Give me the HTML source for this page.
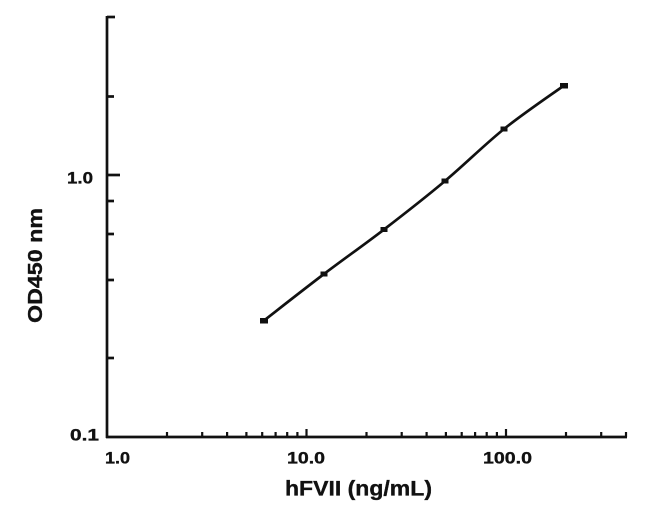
<!DOCTYPE html>
<html>
<head>
<meta charset="utf-8">
<style>
  html, body { margin:0; padding:0; background:#fff; }
  svg { display:block; }
  text { font-family: "Liberation Sans", Arial, sans-serif; font-weight: bold; fill:#111; stroke:#111; stroke-width:0.35; }
</style>
</head>
<body>
<svg width="650" height="513" viewBox="0 0 650 513" xmlns="http://www.w3.org/2000/svg">
  <rect width="650" height="513" fill="#fff"/>
  <g stroke="#111" stroke-width="2.7" fill="none" stroke-linecap="butt">
    <line x1="107" y1="16" x2="107" y2="438"/>
    <line x1="106" y1="437" x2="627" y2="437"/>
    <line x1="107" y1="17" x2="115" y2="17"/>
    <line x1="107" y1="96.5" x2="114" y2="96.5"/>
    <line x1="107" y1="175" x2="120" y2="175"/>
    <line x1="107" y1="201" x2="114" y2="201"/>
    <line x1="107" y1="234" x2="114" y2="234"/>
    <line x1="107" y1="280" x2="114" y2="280"/>
    <line x1="107" y1="358" x2="114" y2="358"/>
  </g>
  <g stroke="#111" stroke-width="2.2" fill="none">
    <line x1="167" y1="437" x2="167" y2="432"/>
    <line x1="202.2" y1="437" x2="202.2" y2="432"/>
    <line x1="227.1" y1="437" x2="227.1" y2="432"/>
    <line x1="246.4" y1="437" x2="246.4" y2="432"/>
    <line x1="262.2" y1="437" x2="262.2" y2="432"/>
    <line x1="275.6" y1="437" x2="275.6" y2="432"/>
    <line x1="287.2" y1="437" x2="287.2" y2="432"/>
    <line x1="297.4" y1="437" x2="297.4" y2="432"/>
    <line x1="306.5" y1="437" x2="306.5" y2="429"/>
    <line x1="366.5" y1="437" x2="366.5" y2="432"/>
    <line x1="401.7" y1="437" x2="401.7" y2="432"/>
    <line x1="426.6" y1="437" x2="426.6" y2="432"/>
    <line x1="445.9" y1="437" x2="445.9" y2="432"/>
    <line x1="461.7" y1="437" x2="461.7" y2="432"/>
    <line x1="475.1" y1="437" x2="475.1" y2="432"/>
    <line x1="486.7" y1="437" x2="486.7" y2="432"/>
    <line x1="496.9" y1="437" x2="496.9" y2="432"/>
    <line x1="506" y1="437" x2="506" y2="429"/>
    <line x1="566" y1="437" x2="566" y2="432"/>
    <line x1="601.2" y1="437" x2="601.2" y2="432"/>
    <line x1="626" y1="437" x2="626" y2="432"/>
  </g>
  <path d="M264,320.5 C274,312.75 304,289.17 324,274 C344,258.83 363.83,245 384,229.5 C404.17,214 425,197.75 445,181 C465,164.25 484.17,144.92 504,129 C523.83,113.08 554,92.75 564,85.5"
        stroke="#111" stroke-width="2.7" fill="none" stroke-linejoin="round"/>
  <g fill="#111">
    <rect x="260" y="318" width="8" height="5.5"/>
    <rect x="320.5" y="271.5" width="7" height="5"/>
    <rect x="380.5" y="227" width="7" height="5"/>
    <rect x="441.5" y="178.5" width="7" height="5"/>
    <rect x="500.5" y="126.5" width="7" height="5"/>
    <rect x="560" y="83" width="8" height="5.5"/>
  </g>
  <text x="67" y="183.5" font-size="17" textLength="26" lengthAdjust="spacingAndGlyphs">1.0</text>
  <text x="70" y="440.5" font-size="17" textLength="29" lengthAdjust="spacingAndGlyphs">0.1</text>
  <text x="105" y="463.5" font-size="17" textLength="25" lengthAdjust="spacingAndGlyphs">1.0</text>
  <text x="287" y="463.5" font-size="17" textLength="38" lengthAdjust="spacingAndGlyphs">10.0</text>
  <text x="483" y="463.5" font-size="17" textLength="49" lengthAdjust="spacingAndGlyphs">100.0</text>
  <text x="285" y="495.5" font-size="21" textLength="147" lengthAdjust="spacingAndGlyphs">hFVII (ng/mL)</text>
  <text transform="translate(42,323) rotate(-90)" x="0" y="0" font-size="20.5" textLength="115" lengthAdjust="spacingAndGlyphs">OD450 nm</text>
</svg>
</body>
</html>
